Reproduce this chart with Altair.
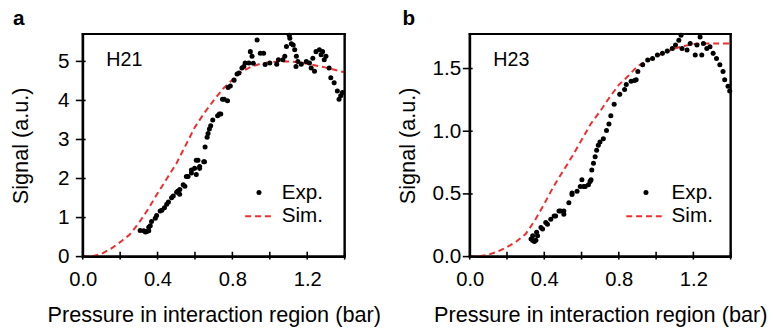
import altair as alt
import pandas as pd

# ---------------- data ----------------
a_exp_p = [0.307, 0.326, 0.335, 0.342, 0.353, 0.353, 0.361, 0.368, 0.388, 0.395, 0.414, 0.423,
           0.437, 0.449, 0.458, 0.475, 0.484, 0.502, 0.509, 0.519, 0.518, 0.537, 0.546, 0.554,
           0.563, 0.581, 0.581, 0.598, 0.607, 0.607, 0.616, 0.625, 0.625, 0.647, 0.651, 0.654,
           0.665, 0.670, 0.677, 0.684, 0.695, 0.721, 0.730, 0.738, 0.747, 0.756, 0.774, 0.777,
           0.789, 0.809, 0.825, 0.835, 0.851, 0.861, 0.868, 0.888, 0.896, 0.905, 0.912, 0.932,
           0.949, 0.967, 0.975, 1.000, 1.037, 1.046, 1.070, 1.080, 1.089, 1.104, 1.107, 1.115,
           1.125, 1.133, 1.142, 1.150, 1.140, 1.168, 1.195, 1.212, 1.221, 1.230, 1.239, 1.247,
           1.265, 1.274, 1.282, 1.291, 1.300, 1.317, 1.326, 1.344, 1.361, 1.370, 1.379, 1.388]
a_exp_s = [0.67, 0.66, 0.63, 0.64, 0.66, 0.75, 0.79, 0.90, 0.98, 1.05, 1.17, 1.19,
           1.25, 1.34, 1.40, 1.51, 1.55, 1.65, 1.68, 1.72, 1.60, 1.84, 1.80, 2.05,
           2.05, 2.14, 2.22, 2.26, 2.10, 2.47, 2.47, 2.31, 2.26, 2.43, 2.43, 2.81,
           3.06, 3.15, 3.27, 3.35, 3.50, 3.61, 3.65, 3.65, 4.03, 4.03, 3.99, 4.33,
           4.37, 4.52, 4.68, 4.70, 4.83, 4.87, 4.96, 4.96, 5.25, 5.13, 4.95, 5.55,
           5.21, 5.21, 4.92, 4.96, 4.93, 5.04, 5.04, 5.13, 5.38, 5.67, 5.59, 5.45,
           5.42, 5.30, 5.13, 5.00, 4.87, 4.93, 5.00, 4.96, 4.83, 5.08, 4.75, 5.25,
           5.30, 5.17, 5.25, 5.04, 5.13, 4.83, 4.58, 4.45, 4.24, 4.03, 4.12, 4.20]

sim_p = [0.0, 0.05, 0.1, 0.15, 0.2, 0.25, 0.3, 0.35, 0.4, 0.45, 0.5, 0.55, 0.6, 0.65, 0.7,
         0.75, 0.8, 0.85, 0.9, 0.95, 1.0, 1.05, 1.1, 1.15, 1.2, 1.25, 1.3, 1.35, 1.4]
a_sim_s = [0.0, 0.01, 0.07, 0.20, 0.37, 0.56, 0.86, 1.22, 1.62, 2.00, 2.38, 2.85, 3.32, 3.68, 4.00,
           4.30, 4.53, 4.74, 4.86, 4.94, 4.98, 5.00, 5.00, 4.98, 4.94, 4.89, 4.84, 4.78, 4.72]

b_exp_p = [0.329, 0.338, 0.338, 0.347, 0.355, 0.359, 0.364, 0.382, 0.391, 0.408, 0.417, 0.435,
           0.453, 0.461, 0.479, 0.488, 0.505, 0.505, 0.532, 0.549, 0.549, 0.576, 0.593, 0.602,
           0.611, 0.620, 0.637, 0.646, 0.651, 0.655, 0.664, 0.673, 0.681, 0.690, 0.699, 0.717,
           0.734, 0.747, 0.757, 0.775, 0.805, 0.831, 0.840, 0.866, 0.884, 0.893, 0.902, 0.928,
           0.955, 0.981, 1.007, 1.034, 1.060, 1.087, 1.104, 1.122, 1.134, 1.139, 1.166, 1.183,
           1.210, 1.219, 1.236, 1.245, 1.254, 1.272, 1.289, 1.306, 1.324, 1.342, 1.359, 1.368,
           1.386, 1.395]
b_exp_s = [0.141, 0.128, 0.167, 0.120, 0.130, 0.194, 0.167, 0.233, 0.220, 0.272, 0.259, 0.298,
           0.324, 0.324, 0.364, 0.364, 0.338, 0.364, 0.430, 0.508, 0.495, 0.521, 0.560, 0.613,
           0.560, 0.560, 0.573, 0.600, 0.613, 0.691, 0.744, 0.796, 0.848, 0.888, 0.914, 0.940,
           1.005, 1.058, 1.123, 1.215, 1.294, 1.333, 1.372, 1.398, 1.405, 1.411, 1.477, 1.530,
           1.568, 1.581, 1.608, 1.621, 1.639, 1.660, 1.687, 1.726, 1.765, 1.660, 1.647, 1.699,
           1.608, 1.687, 1.752, 1.608, 1.699, 1.660, 1.673, 1.621, 1.581, 1.530, 1.477, 1.411,
           1.359, 1.320]
b_sim_s = [0.0, 0.003, 0.015, 0.04, 0.075, 0.12, 0.18, 0.29, 0.42, 0.56, 0.68, 0.80, 0.93, 1.06, 1.16,
           1.27, 1.37, 1.44, 1.52, 1.56, 1.60, 1.63, 1.66, 1.68, 1.695, 1.70, 1.70, 1.70, 1.70]

x_labels = [0.0, 0.4, 0.8, 1.2]
x_ticks = [0.0, 0.2, 0.4, 0.6, 0.8, 1.0, 1.2, 1.4]
a_y_ticks = [0, 1, 2, 3, 4, 5]
b_y_ticks = [0.0, 0.5, 1.0, 1.5]

RED = "#f02d2d"
INK = "#000000"
FONT = "Liberation Sans"
H = 226
XTITLE = "Pressure in interaction region (bar)"
YTITLE = "Signal (a.u.)"


def one(label):
    return alt.Chart(pd.DataFrame({"t": [label]}))


def bar(label, x0, x1, y0, y1):
    # a thin filled black bar (part of the plot frame)
    return one(label).mark_rect(color=INK, opacity=1).encode(
        x=alt.value(x0), x2=alt.value(x1), y=alt.value(y0), y2=alt.value(y1))


def panel(tag, name, exp_p, exp_s, sim_s, ymax, yticks, yfmt, w, lpad, tpad, tdx, leg):
    xs = alt.Scale(domain=[0, 1.4], nice=False)
    ys = alt.Scale(domain=[0, ymax], nice=False)
    xax = alt.Axis(
        values=x_labels, format=".1f", ticks=False, grid=False,
        domain=True, domainColor=INK, domainWidth=2,
        labelFlush=False, labelFontSize=20.5, labelPadding=13, labelColor=INK,
        title=XTITLE, titleFontSize=22, titleFontWeight="normal",
        titlePadding=15, titleColor=INK)
    yax = alt.Axis(
        values=yticks, format=yfmt, ticks=False, grid=False,
        domain=True, domainColor=INK, domainWidth=2,
        labelFlush=False, labelFontSize=21, labelPadding=lpad, labelColor=INK,
        title=YTITLE, titleFontSize=22, titleFontWeight="normal",
        titlePadding=tpad, titleColor=INK)
    X = lambda f: alt.X(f + ":Q", scale=xs, axis=xax, title=XTITLE)
    Y = lambda f: alt.Y(f + ":Q", scale=ys, axis=yax, title=YTITLE)

    exp_df = pd.DataFrame({"p": exp_p, "s": exp_s})
    sim_df = pd.DataFrame({"p": sim_p, "s": sim_s})

    pts = alt.Chart(exp_df).mark_circle(size=26, color=INK, opacity=1).encode(
        x=X("p"), y=Y("s"))
    line = alt.Chart(sim_df).mark_line(color=RED, strokeDash=[6, 4], strokeWidth=2).encode(
        x=X("p"), y=Y("s"))
    xt = alt.Chart(pd.DataFrame({"p": x_ticks})).mark_tick(
        orient="vertical", size=8, thickness=1.6, color=INK, opacity=1).encode(
        x=X("p"), y=alt.value(H - 1))
    yt = alt.Chart(pd.DataFrame({"s": yticks})).mark_tick(
        orient="horizontal", size=10, thickness=1.6, color=INK, opacity=1).encode(
        y=Y("s"), x=alt.value(-2))

    lab = one(name).mark_text(
        align="left", baseline="middle", fontSize=20, color=INK).encode(
        text="t:N", x=alt.value(24), y=alt.value(26))

    leg_dot = one("Exp.").mark_circle(size=26, color=INK, opacity=1).encode(
        x=alt.value(leg["dot"]), y=alt.value(161))
    leg_line = one("Sim.").mark_rule(color=RED, strokeDash=[6, 4], strokeWidth=2).encode(
        x=alt.value(leg["l0"]), x2=alt.value(leg["l1"]), y=alt.value(185))
    leg_t1 = one("Exp.").mark_text(
        align="left", baseline="middle", fontSize=21, color=INK).encode(
        text="t:N", x=alt.value(leg["tx"]), y=alt.value(161))
    leg_t2 = one("Sim.").mark_text(
        align="left", baseline="middle", fontSize=21, color=INK).encode(
        text="t:N", x=alt.value(leg["tx"]), y=alt.value(185))

    frame = [
        bar("top", -1, w + 1, -1, 1),
        bar("bottom", -1, w + 1, H - 1, H + 1),
        bar("left", -1, 1, -1, H + 1),
        bar("right", w - 1, w + 1, -1, H + 1),
    ]

    return alt.layer(line, pts, xt, yt, lab, leg_dot, leg_line, leg_t1, leg_t2, *frame).properties(
        width=w, height=H,
        title=alt.TitleParams(tag, anchor="start", frame="bounds", fontSize=21,
                              fontWeight="bold", offset=4, dx=tdx, color=INK),
    )


pa = panel("a", "H21", a_exp_p, a_exp_s, a_sim_s, 5.7, a_y_ticks, "d", 266, 14, 25, 3,
           {"dot": 179, "l0": 165, "l1": 192, "tx": 202})
pb = panel("b", "H23", b_exp_p, b_exp_s, b_sim_s, 1.775, b_y_ticks, ".1f", 265, 9, 13, 6,
           {"dot": 179, "l0": 159, "l1": 197, "tx": 205})

chart = alt.hconcat(pa, pb, spacing=127, bounds="flush").properties(
    padding={"left": 9, "top": 4, "right": 5, "bottom": 5}
).configure(font=FONT).configure_view(stroke=INK, strokeWidth=2)

chart.save("out.html", embed_options={"renderer": "svg", "actions": False})
